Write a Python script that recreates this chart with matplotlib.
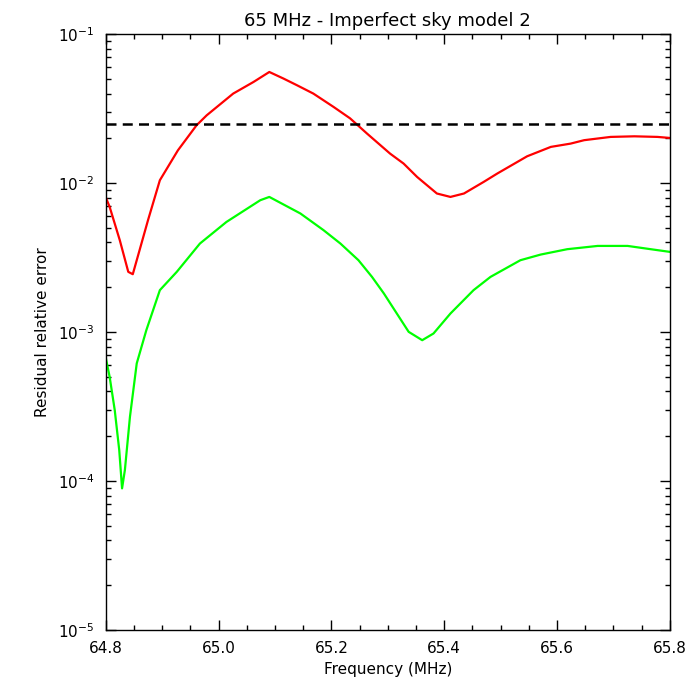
import matplotlib
matplotlib.use("Agg")
import matplotlib.pyplot as plt
import numpy as np
from matplotlib.ticker import LogLocator, MultipleLocator, FixedLocator, FuncFormatter

# frequency (MHz) and log10 of residual relative error
red_freq = [64.800, 64.807, 64.825, 64.840, 64.848, 64.860, 64.875, 64.896, 64.928,
            64.961, 64.979, 65.026, 65.062, 65.090, 65.115, 65.139, 65.168, 65.204,
            65.233, 65.263, 65.304, 65.328, 65.352, 65.387, 65.411, 65.435, 65.470,
            65.494, 65.547, 65.589, 65.624, 65.648, 65.695, 65.737, 65.778, 65.800]
red_log = [-2.094, -2.159, -2.383, -2.595, -2.611, -2.450, -2.248, -1.980, -1.779,
           -1.611, -1.544, -1.398, -1.320, -1.253, -1.297, -1.342, -1.398, -1.488,
           -1.564, -1.666, -1.801, -1.868, -1.958, -2.069, -2.092, -2.069, -1.991,
           -1.935, -1.819, -1.756, -1.734, -1.711, -1.689, -1.685, -1.689, -1.696]

green_freq = [64.800, 64.807, 64.816, 64.824, 64.829, 64.834, 64.843, 64.855, 64.872,
              64.896, 64.926, 64.967, 65.014, 65.074, 65.090, 65.145, 65.186, 65.216,
              65.248, 65.272, 65.293, 65.316, 65.337, 65.361, 65.381, 65.411, 65.452,
              65.482, 65.535, 65.571, 65.618, 65.672, 65.725, 65.766, 65.800]
green_log = [-3.170, -3.300, -3.523, -3.792, -4.049, -3.926, -3.568, -3.210, -2.987,
             -2.718, -2.595, -2.405, -2.260, -2.114, -2.092, -2.203, -2.315, -2.405,
             -2.517, -2.629, -2.740, -2.875, -2.998, -3.054, -3.009, -2.875, -2.718,
             -2.629, -2.517, -2.479, -2.443, -2.421, -2.421, -2.443, -2.461]

threshold = 0.025
x_ticks = [64.8, 65.0, 65.2, 65.4, 65.6, 65.8]

fig = plt.figure(figsize=(7, 7), dpi=100)
ax = fig.add_axes([0.151, 0.1, 0.806, 0.851])

ax.plot(red_freq, 10.0 ** np.array(red_log), color="#ff0000", lw=1.6)
ax.plot(green_freq, 10.0 ** np.array(green_log), color="#00ff00", lw=1.6)
ax.axhline(threshold, color="black", lw=1.8, dashes=(4, 2.5))

ax.set_yscale("log")
ax.set_xlim(64.8, 65.8)
ax.set_ylim(1e-5, 1e-1)

ax.xaxis.set_major_locator(FixedLocator(x_ticks))
ax.xaxis.set_minor_locator(MultipleLocator(0.05))
ax.xaxis.set_major_formatter(FuncFormatter(lambda v, p: f"{v:.1f}"))
ax.yaxis.set_major_locator(LogLocator(base=10, numticks=10))
ax.yaxis.set_minor_locator(LogLocator(base=10, subs=np.arange(2, 10), numticks=20))
ax.yaxis.set_major_formatter(FuncFormatter(lambda v, p: r"$10^{%d}$" % round(np.log10(v))))

ax.tick_params(which="both", direction="in", top=True, right=True, width=1, labelsize=11)
ax.tick_params(which="major", length=7.5, pad=8)
ax.tick_params(which="minor", length=3.8)
for s in ax.spines.values():
    s.set_linewidth(1)

ax.set_title("65 MHz - Imperfect sky model 2", fontsize=13, pad=6)
ax.set_xlabel("Frequency (MHz)", fontsize=11, labelpad=4)
ax.set_ylabel("Residual relative error", fontsize=11, labelpad=6)

fig.savefig("out.png", dpi=100)
